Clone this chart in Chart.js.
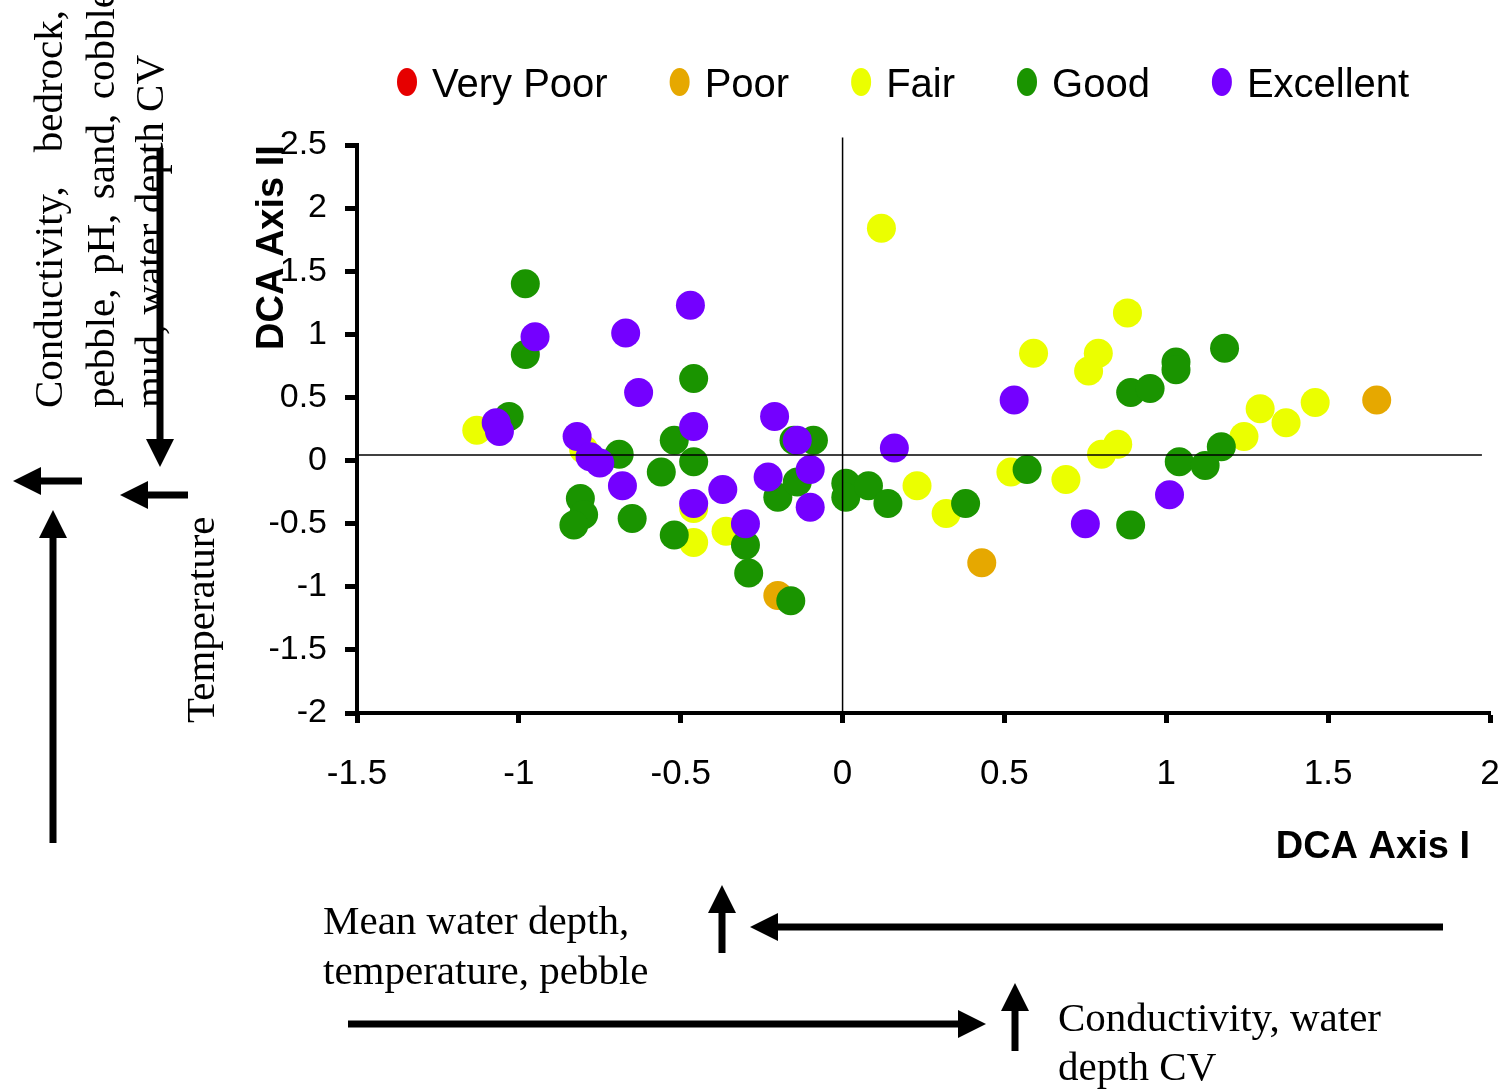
<!DOCTYPE html>
<html>
<head>
<meta charset="utf-8">
<script src="https://cdn.jsdelivr.net/npm/chart.js@4.4.1/dist/chart.umd.min.js"></script>
<style>
  html, body { margin: 0; padding: 0; background: #fff; }
  #wrap { width: 1507px; height: 1091px; }
</style>
</head>
<body>
<div id="wrap"><canvas id="dcaChart" width="1507" height="1091"></canvas></div>
<script>
// ---- DCA site scores (axis I, axis II) by condition class ----
const classNames = ['Very Poor', 'Poor', 'Fair', 'Good', 'Excellent'];
const classColors = ['#e60000', '#e6a800', '#ebff00', '#1a9400', '#7400ff'];

const veryPoorPts = [];
const poorPts = [[-0.20, -1.07], [0.43, -0.81], [1.65, 0.48]];
const fairPts = [
  [-1.13, 0.24], [-0.80, 0.09], [-0.46, -0.38], [-0.46, -0.65], [-0.36, -0.56],
  [0.12, 1.84], [0.23, -0.20], [0.32, -0.42], [0.52, -0.09], [0.59, 0.85],
  [0.69, -0.15], [0.76, 0.71], [0.79, 0.85], [0.80, 0.05], [0.85, 0.13],
  [0.88, 1.17], [1.24, 0.19], [1.29, 0.41], [1.37, 0.30], [1.46, 0.46]
];
const goodPts = [
  [-0.98, 1.40], [-0.98, 0.84], [-1.03, 0.35], [-0.81, -0.30], [-0.80, -0.43],
  [-0.83, -0.51], [-0.69, 0.05], [-0.65, -0.46], [-0.56, -0.09], [-0.52, 0.16],
  [-0.52, -0.59], [-0.46, 0.65], [-0.46, -0.01], [-0.30, -0.67], [-0.29, -0.89],
  [-0.16, -1.11], [-0.20, -0.29], [-0.14, -0.17], [-0.15, 0.16], [-0.09, 0.16],
  [0.01, -0.18], [0.01, -0.29], [0.08, -0.20], [0.14, -0.34], [0.38, -0.34],
  [0.57, -0.07], [0.89, 0.54], [0.95, 0.57], [1.03, 0.78], [1.03, 0.72],
  [1.18, 0.89], [1.04, -0.01], [1.12, -0.04], [1.17, 0.11], [0.89, -0.51]
];
const excellentPts = [
  [-0.95, 0.98], [-0.67, 1.01], [-0.47, 1.23], [-0.63, 0.54], [-1.07, 0.30],
  [-1.06, 0.23], [-0.82, 0.19], [-0.78, 0.03], [-0.75, -0.02], [-0.46, 0.27],
  [-0.68, -0.20], [-0.46, -0.34], [-0.37, -0.23], [-0.30, -0.50], [-0.21, 0.35],
  [-0.14, 0.16], [-0.23, -0.13], [-0.10, -0.07], [-0.10, -0.37], [0.16, 0.10],
  [0.53, 0.48], [0.75, -0.50], [1.01, -0.27]
];

// axis ranges and reference lines
const xRange = [-1.5, 2];
const yRange = [-2, 2.5];
const tickStep = 0.5;
const vLinePts = [[0, -2], [0, 2.56]];
const hLinePts = [[-1.5, 0.045], [1.975, 0.045]];

const SANS = '"Liberation Sans", Arial, sans-serif';
const SERIF = '"Liberation Serif", "Times New Roman", serif';
Chart.defaults.font.family = SANS;

const toXY = arr => arr.map(([x, y]) => ({ x, y }));

const groups = [veryPoorPts, poorPts, fairPts, goodPts, excellentPts];
const datasets = groups.map((pts, i) => ({
  label: classNames[i],
  data: toXY(pts),
  backgroundColor: classColors[i],
  borderWidth: 0,
  pointRadius: 14.5,
  pointHoverRadius: 14.5,
  order: classNames.length - i   // later classes drawn on top
}));

[vLinePts, hLinePts].forEach(pts => {
  datasets.push({
    label: '',
    data: toXY(pts),
    showLine: true,
    borderColor: '#000',
    borderWidth: 1.5,
    pointRadius: 0,
    clip: false,
    order: -1
  });
});

// ---- legend, axis titles and the environmental gradient arrows ----
function arrow(ctx, x1, y1, x2, y2) {
  const a = Math.atan2(y2 - y1, x2 - x1);
  const hl = 28, hw = 14;
  const bx = x2 - hl * Math.cos(a), by = y2 - hl * Math.sin(a);
  ctx.lineWidth = 7;
  ctx.beginPath();
  ctx.moveTo(x1, y1);
  ctx.lineTo(bx, by);
  ctx.stroke();
  ctx.beginPath();
  ctx.moveTo(x2, y2);
  ctx.lineTo(bx + hw * Math.sin(a), by - hw * Math.cos(a));
  ctx.lineTo(bx - hw * Math.sin(a), by + hw * Math.cos(a));
  ctx.closePath();
  ctx.fill();
}

function textLine(ctx, str, x, y, width) {
  if (!width) { ctx.fillText(str, x, y); return; }
  const words = str.split(' ');
  const total = words.reduce((s, w) => s + ctx.measureText(w).width, 0);
  const gap = (width - total) / (words.length - 1);
  let cx = x;
  words.forEach(w => {
    ctx.fillText(w, cx, y);
    cx += ctx.measureText(w).width + gap;
  });
}

function vText(ctx, str, bx, by, width) {
  ctx.save();
  ctx.translate(bx, by);
  ctx.rotate(-Math.PI / 2);
  textLine(ctx, str, 0, 0, width);
  ctx.restore();
}

const extras = {
  id: 'extras',
  afterDraw(chart) {
    const ctx = chart.ctx;
    ctx.save();
    ctx.fillStyle = '#000';
    ctx.strokeStyle = '#000';
    ctx.textAlign = 'left';
    ctx.textBaseline = 'alphabetic';

    // legend
    ctx.font = '40px ' + SANS;
    let mx = 407;
    classNames.forEach((name, i) => {
      ctx.fillStyle = classColors[i];
      ctx.beginPath();
      ctx.ellipse(mx, 82, 10, 14, 0, 0, Math.PI * 2);
      ctx.fill();
      ctx.fillStyle = '#000';
      ctx.fillText(name, mx + 25, 97);
      mx += 25 + ctx.measureText(name).width + 72;
    });

    // axis titles
    ctx.font = 'bold 38px ' + SANS;
    vText(ctx, 'DCA Axis II', 283, 350);
    ctx.textAlign = 'right';
    ctx.fillText('DCA Axis I', 1470, 858);
    ctx.textAlign = 'left';

    // gradient labels
    ctx.font = '41px ' + SERIF;
    vText(ctx, 'Conductivity, bedrock,', 62, 408, 398);
    vText(ctx, 'pebble, pH, sand, cobble', 114, 408, 418);
    vText(ctx, 'mud, water depth CV', 163, 408);
    vText(ctx, 'Temperature', 214, 723);
    ctx.fillText('Mean water depth,', 323, 934);
    ctx.fillText('temperature, pebble', 323, 984);
    ctx.fillText('Conductivity, water', 1058, 1031);
    ctx.fillText('depth CV', 1058, 1080);

    // arrows
    arrow(ctx, 160, 148, 160, 467);
    arrow(ctx, 82, 481, 13, 481);
    arrow(ctx, 188, 495, 120, 495);
    arrow(ctx, 53, 843, 53, 510);
    arrow(ctx, 722, 953, 722, 885);
    arrow(ctx, 1443, 927, 750, 927);
    arrow(ctx, 348, 1024, 986, 1024);
    arrow(ctx, 1015, 1051, 1015, 983);

    ctx.restore();
  }
};

const fmt = v => String(+v.toFixed(2));

new Chart(document.getElementById('dcaChart').getContext('2d'), {
  type: 'scatter',
  data: { datasets },
  options: {
    responsive: false,
    animation: false,
    events: [],
    layout: { autoPadding: false, padding: { top: 145, right: 17, bottom: 0, left: 0 } },
    plugins: {
      legend: { display: false },
      tooltip: { enabled: false }
    },
    scales: {
      x: {
        type: 'linear',
        min: xRange[0],
        max: xRange[1],
        afterFit: s => { s.height = 378; s.paddingLeft = 0; s.paddingRight = 0; },
        ticks: {
          stepSize: tickStep,
          padding: 30,
          color: '#000',
          maxRotation: 0,
          autoSkip: false,
          font: { size: 35 },
          callback: fmt
        },
        grid: { drawOnChartArea: false, tickLength: 10, tickWidth: 5, tickColor: '#000' },
        border: { color: '#000', width: 4 }
      },
      y: {
        type: 'linear',
        min: yRange[0],
        max: yRange[1],
        afterFit: s => { s.width = 357; },
        ticks: {
          stepSize: tickStep,
          padding: 18,
          color: '#000',
          autoSkip: false,
          font: { size: 34 },
          callback: fmt
        },
        grid: { drawOnChartArea: false, tickLength: 12, tickWidth: 5, tickColor: '#000' },
        border: { color: '#000', width: 4 }
      }
    }
  },
  plugins: [extras]
});
</script>
</body>
</html>
